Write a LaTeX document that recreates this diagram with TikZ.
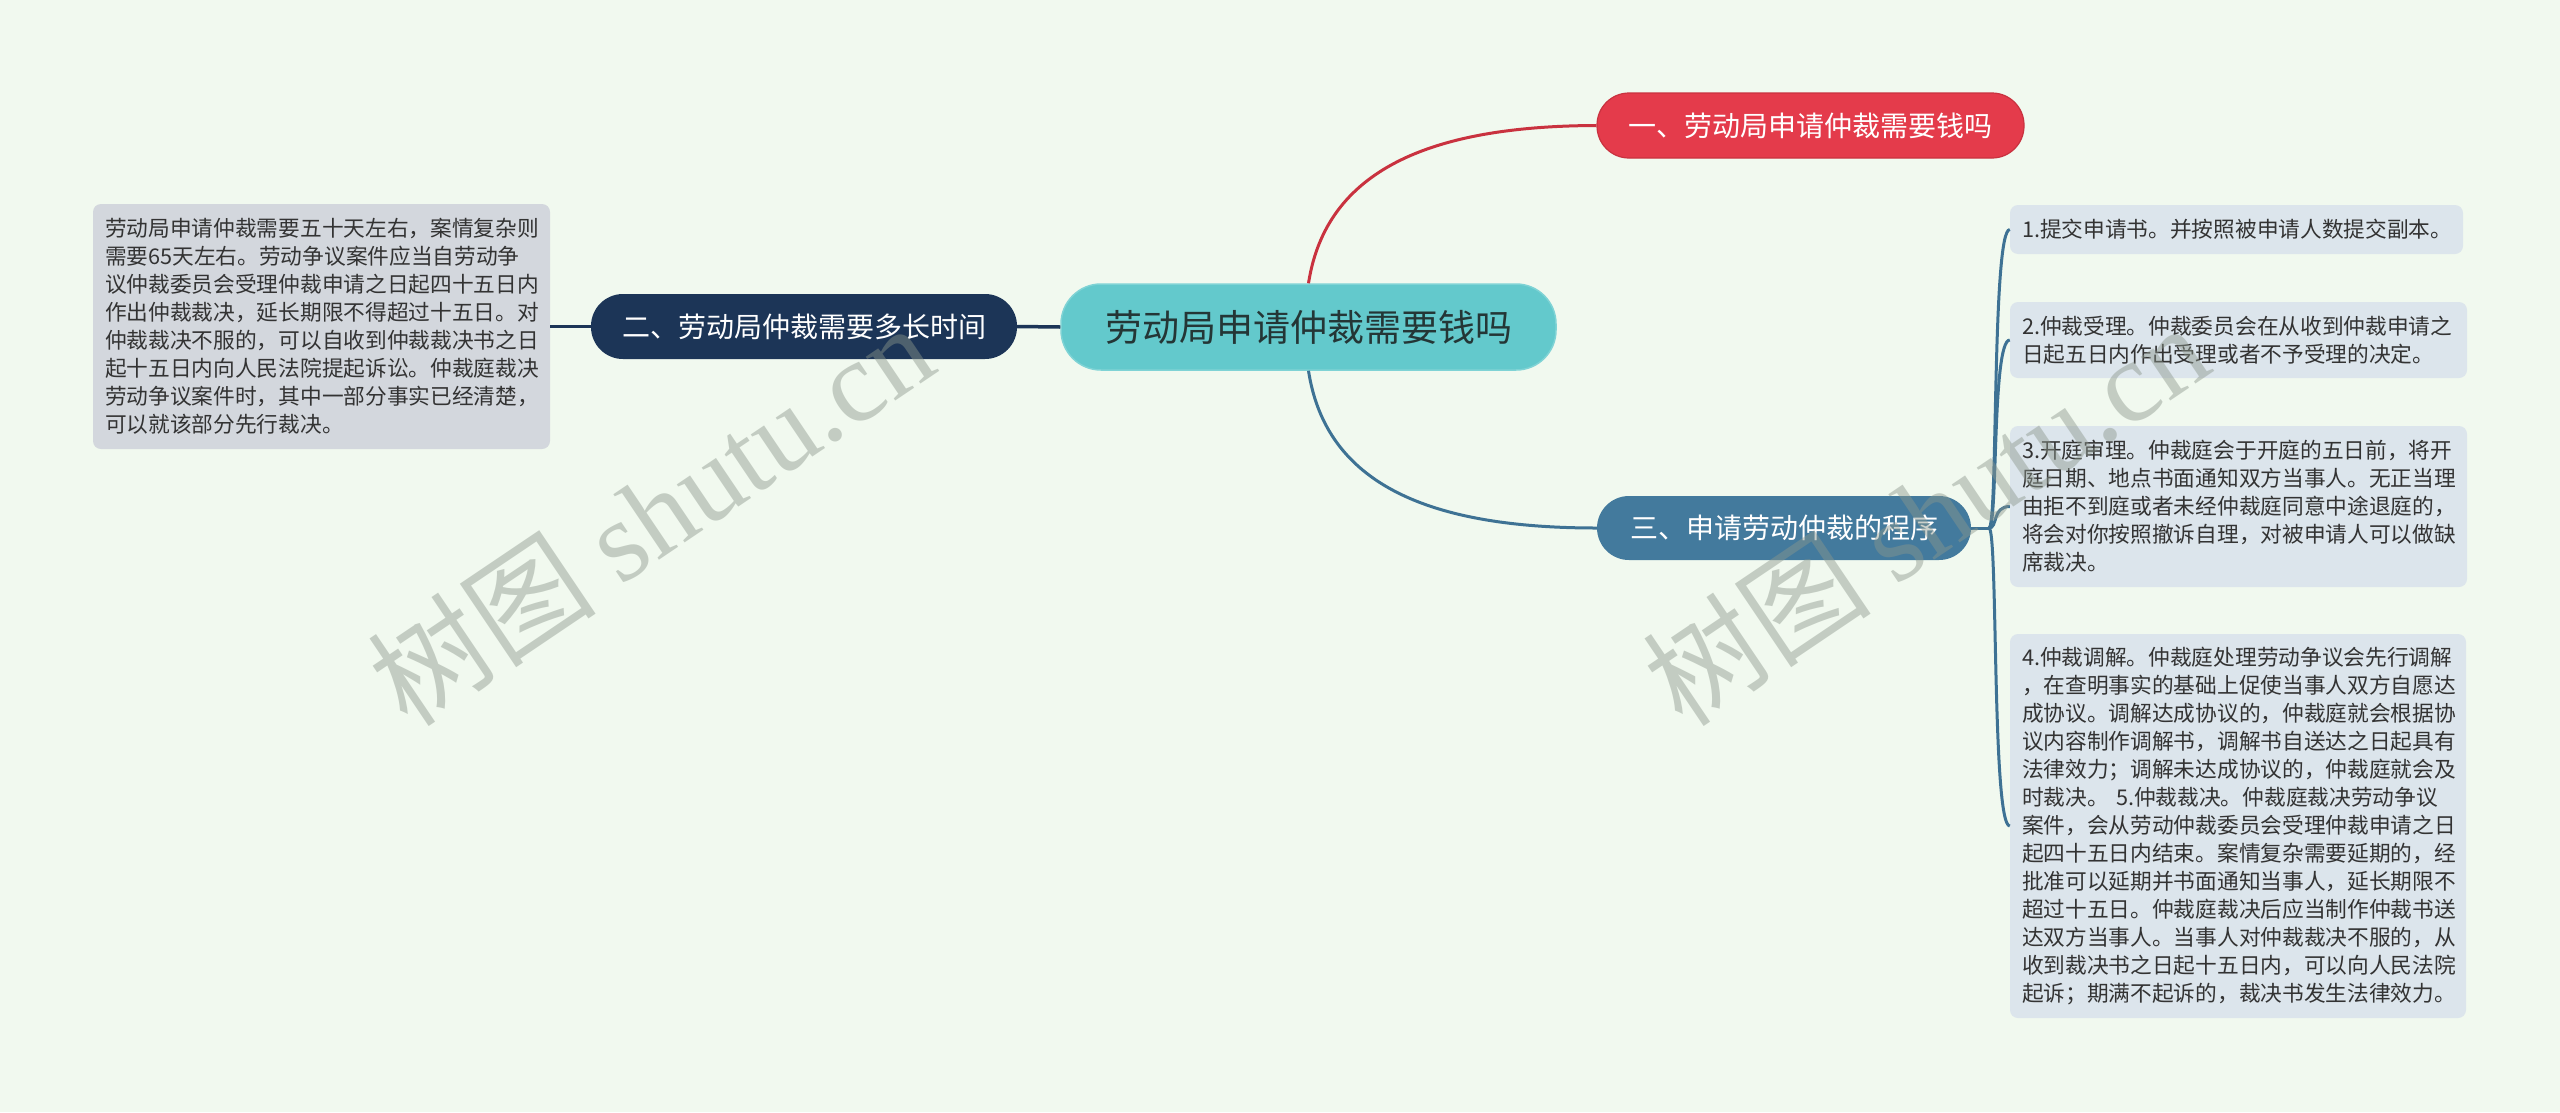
\documentclass[tikz,border=0pt]{standalone}
\usepackage{fontspec}
\newfontfamily\cjk{Noto Sans CJK SC}
\newfontfamily\wmlatin{Liberation Serif}
\usetikzlibrary{calc}
\definecolor{bgc}{HTML}{F1F9EF}
\definecolor{centerfill}{HTML}{63C9CC}
\definecolor{centerdraw}{HTML}{7FD3D5}
\definecolor{centertext}{HTML}{243636}
\definecolor{redfill}{HTML}{E43B4B}
\definecolor{reddraw}{HTML}{C9323F}
\definecolor{navyfill}{HTML}{1C3557}
\definecolor{steelfill}{HTML}{437A9D}
\definecolor{steelline}{HTML}{3E7294}
\definecolor{leafL}{HTML}{D3D7DD}
\definecolor{leafR}{HTML}{DCE5EC}
\definecolor{leaftext}{HTML}{333333}
\definecolor{wmcol}{HTML}{8C978C}
\begin{document}
\begin{tikzpicture}[x=1pt,y=-1pt,
  topic/.style={inner sep=0pt, text=white, font={\cjk\fontsize{28pt}{34pt}\selectfont}},
  centerbox/.style={fill=centerfill, draw=centerdraw, line width=1.5pt, rounded corners=40pt,
    minimum width=495pt, minimum height=86pt, inner sep=0pt, text=centertext,
    font={\cjk\fontsize{37pt}{44pt}\selectfont}},
  leafbox/.style={rounded corners=8pt, align=left, inner xsep=12pt, inner ysep=0pt,
    text=leaftext, font={\cjk\fontsize{21.7pt}{28pt}\selectfont}},
  redline/.style={draw=reddraw, line width=3pt},
  navyline/.style={draw=navyfill, line width=3.5pt},
  steelconn/.style={draw=steelline, line width=3pt},
  wm/.style={text=wmcol, opacity=0.45, inner sep=0pt, font={\cjk\fontsize{115pt}{120pt}\selectfont}}
]
\useasboundingbox (0,0) rectangle (2560,1112);
\fill[bgc] (0,0) rectangle (2560,1112);

% central topic
\node[centerbox] (c) at (1308.5,327) {劳动局申请仲裁需要钱吗};

% main branches
\node[topic, fill=redfill, draw=reddraw, line width=1.2pt, rounded corners=32pt,
  minimum width=427pt, minimum height=65pt] (n1) at (1810.5,125.5) {一、劳动局申请仲裁需要钱吗};
\node[topic, fill=navyfill, rounded corners=32pt,
  minimum width=426pt, minimum height=65pt] (n2) at (804,326.5) {二、劳动局仲裁需要多长时间};
\node[topic, fill=steelfill, rounded corners=32pt,
  minimum width=374pt, minimum height=64pt] (n3) at (1784,528) {三、申请劳动仲裁的程序};

% left leaf
\node[leafbox, fill=leafL, text width=433pt, minimum height=245pt] (l0) at (321.5,326.5)
{劳动局申请仲裁需要五十天左右，案情复杂则\\
需要65天左右。劳动争议案件应当自劳动争\\
议仲裁委员会受理仲裁申请之日起四十五日内\\
作出仲裁裁决，延长期限不得超过十五日。对\\
仲裁裁决不服的，可以自收到仲裁裁决书之日\\
起十五日内向人民法院提起诉讼。仲裁庭裁决\\
劳动争议案件时，其中一部分事实已经清楚，\\
可以就该部分先行裁决。};

% right leaves
\node[leafbox, fill=leafR, text width=429pt, minimum height=49pt] (r1) at (2236.5,229.5)
{1.提交申请书。并按照被申请人数提交副本。};
\node[leafbox, fill=leafR, text width=433pt, minimum height=76pt] (r2) at (2238.5,340)
{2.仲裁受理。仲裁委员会在从收到仲裁申请之\\
日起五日内作出受理或者不予受理的决定。};
\node[leafbox, fill=leafR, text width=433pt, minimum height=161pt] (r3) at (2238.5,506.5)
{3.开庭审理。仲裁庭会于开庭的五日前，将开\\
庭日期、地点书面通知双方当事人。无正当理\\
由拒不到庭或者未经仲裁庭同意中途退庭的，\\
将会对你按照撤诉自理，对被申请人可以做缺\\
席裁决。};
\node[leafbox, fill=leafR, text width=432pt, minimum height=384pt] (r4) at (2238,826)
{4.仲裁调解。仲裁庭处理劳动争议会先行调解\\
，在查明事实的基础上促使当事人双方自愿达\\
成协议。调解达成协议的，仲裁庭就会根据协\\
议内容制作调解书，调解书自送达之日起具有\\
法律效力；调解未达成协议的，仲裁庭就会及\\
时裁决。 5.仲裁裁决。仲裁庭裁决劳动争议\\
案件，会从劳动仲裁委员会受理仲裁申请之日\\
起四十五日内结束。案情复杂需要延期的，经\\
批准可以延期并书面通知当事人，延长期限不\\
超过十五日。仲裁庭裁决后应当制作仲裁书送\\
达双方当事人。当事人对仲裁裁决不服的，从\\
收到裁决书之日起十五日内，可以向人民法院\\
起诉；期满不起诉的，裁决书发生法律效力。};

% connectors
\draw[redline] (c.north) .. controls (1326,170) and (1430,126) .. (n1.west);
\draw[steelconn] (c.south) .. controls (1326,485) and (1430,528) .. (n3.west);
\draw[navyline] (c.west) -- (n2.east);
\draw[navyline] (n2.west) -- (l0.east);

\coordinate (j) at (1989,528);
\draw[steelconn] (n3.east) -- (j);
\foreach \leaf in {r1,r2,r3,r4}{
  \draw[steelconn] (j) .. controls +(9,0) and +(-18,0) .. (\leaf.west);
}

% watermarks
\node[wm, rotate=34] (wm1) at (650,514) {树图 {\wmlatin shutu.cn}};
\node[wm, rotate=34] (wm2) at (1925,514) {树图 {\wmlatin shutu.cn}};
\end{tikzpicture}
\end{document}
